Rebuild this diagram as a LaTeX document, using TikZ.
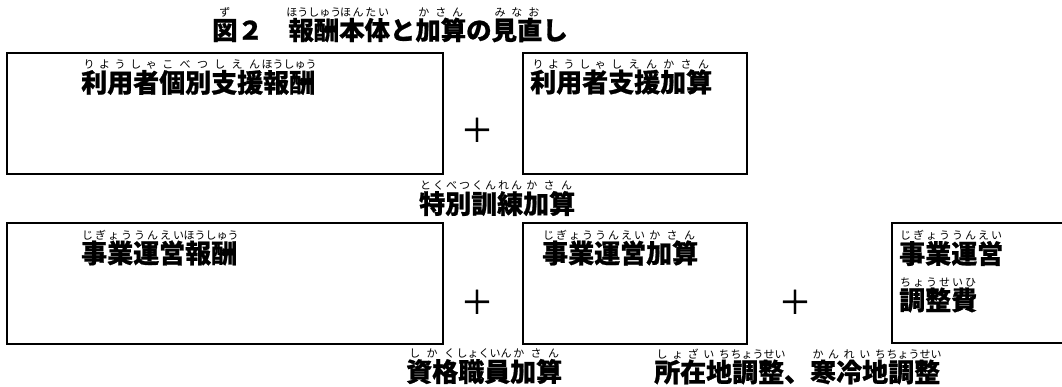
\documentclass[tikz,border=0pt]{standalone}
\usepackage{fontspec}
\newfontfamily\jpb{Noto Sans CJK JP}[BoldFeatures={FakeBold=0.8}]
\newfontfamily\jpr{Noto Sans CJK JP}
\newfontfamily\jpp{Noto Sans CJK JP}[FakeBold=0.6]
\newcommand\rbfont{\jpr\mdseries\fontsize{11pt}{12pt}\selectfont}
\def\rbspread#1{#1\futurelet\rbnext\rbcheck}
\def\rbcheck{\ifx\rbnext\relax\expandafter\rbstop\else\hskip0pt plus 1fil\relax\expandafter\rbspread\fi}
\def\rbstop\relax{}
\newcommand\rb[2]{{%
  \setbox0\hbox{#1}%
  \setbox1\hbox{\rbfont#2}%
  \dimen0=.91em
  \ifdim\wd1<\wd0
    \setbox1\hbox to\wd0{\rbfont\hskip0pt plus .5fil\relax\rbspread#2\relax\hskip0pt plus .5fil\relax}%
  \fi
  \hbox to\wd0{\hss\smash{\raise\dimen0\box1}\hss}%
  \hskip-\wd0
  \box0}}
\tikzset{
  box/.style={draw=black,line width=2pt},
  lbl/.style={anchor=west,inner sep=0pt,font=\jpb\bfseries\fontsize{26pt}{30pt}\selectfont},
  ttl/.style={anchor=west,inner sep=0pt,font=\jpb\bfseries\fontsize{25.4pt}{30pt}\selectfont},
  plus/.style={inner sep=0pt,font=\jpp\fontsize{33pt}{35pt}\selectfont}
}
\begin{document}
\begin{tikzpicture}[x=1pt,y=-1pt]
\useasboundingbox (0,0) rectangle (1062,387);
\clip (0,0) rectangle (1062,387);
% boxes
\draw[box] (7,53) rectangle (443,174);
\draw[box] (523,53) rectangle (747,174);
\draw[box] (7,223) rectangle (443,344);
\draw[box] (523,223) rectangle (747,344);
\draw[box] (892,223) rectangle (1075,343);
% title
\node[ttl] (title) at (212,30) {\rb{図}{ず}２　\rb{報酬}{ほうしゅう}\rb{本体}{ほんたい}と\rb{加算}{かさん}の\rb{見直}{みなお}し};
% labels
\node[lbl] (l1) at (81,82.5) {\rb{利用者}{りようしゃ}\rb{個別}{こべつ}\rb{支援}{しえん}\rb{報酬}{ほうしゅう}};
\node[lbl] (l2) at (530,82) {\rb{利用者}{りようしゃ}\rb{支援}{しえん}\rb{加算}{かさん}};
\node[lbl] (l3) at (419,203.5) {\rb{特別}{とくべつ}\rb{訓練}{くんれん}\rb{加算}{かさん}};
\node[lbl] (l4) at (81,253) {\rb{事業}{じぎょう}\rb{運営}{うんえい}\rb{報酬}{ほうしゅう}};
\node[lbl] (l5) at (542,253) {\rb{事業}{じぎょう}\rb{運営}{うんえい}\rb{加算}{かさん}};
\node[lbl] (l6) at (899,253.5) {\rb{事業}{じぎょう}\rb{運営}{うんえい}};
\node[lbl] (l7) at (899,300) {\rb{調整費}{ちょうせいひ}};
\node[lbl] (l8) at (406,371.5) {\rb{資格}{しかく}\rb{職員}{しょくいん}\rb{加算}{かさん}};
\node[lbl] (l9) at (654,372) {\rb{所在地}{しょざいち}\rb{調整}{ちょうせい}、\rb{寒冷地}{かんれいち}\rb{調整}{ちょうせい}};
% plus signs
\node[plus] (p1) at (477,130) {＋};
\node[plus] (p2) at (477,302) {＋};
\node[plus] (p3) at (795,302) {＋};
\end{tikzpicture}
\end{document}
